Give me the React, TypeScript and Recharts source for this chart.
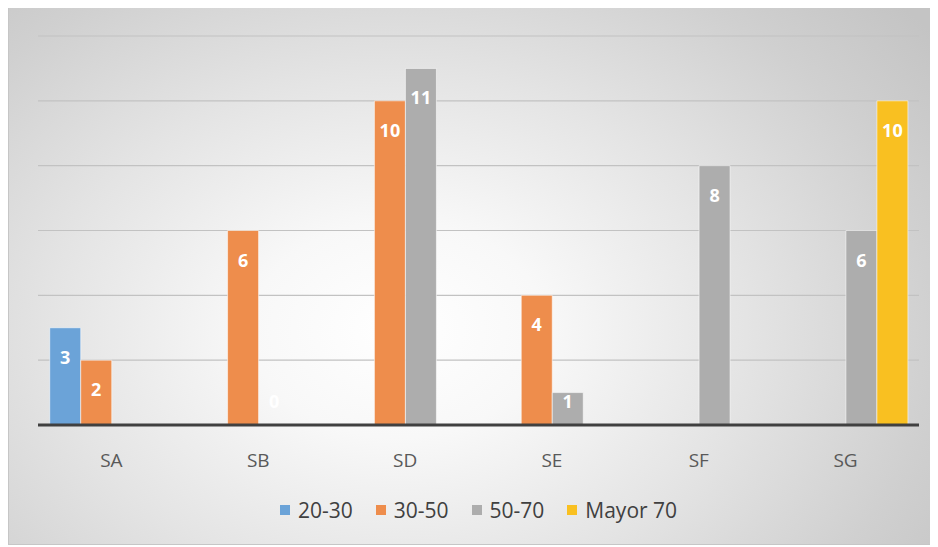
import React from 'react';
import { BarChart, Bar, XAxis, YAxis, CartesianGrid, Legend, LabelList } from 'recharts';

const CATEGORIES = ['SA', 'SB', 'SD', 'SE', 'SF', 'SG'];
const S_20_30 = [3, null, null, null, null, null];
const S_30_50 = [2, 6, 10, 4, null, null];
const S_50_70 = [null, 0, 11, 1, 8, 6];
const S_MAYOR_70 = [null, null, null, null, null, 10];
const Y_TICKS = [0, 2, 4, 6, 8, 10, 12];

const SERIES = [
  { key: 'a', name: '20-30', color: '#6ba3d8', values: S_20_30 },
  { key: 'b', name: '30-50', color: '#ee8d4c', values: S_30_50 },
  { key: 'c', name: '50-70', color: '#adadad', values: S_50_70 },
  { key: 'd', name: 'Mayor 70', color: '#f9c021', values: S_MAYOR_70 },
];

const data = CATEGORIES.map((c, i) => {
  const row: Record<string, any> = { cat: c };
  SERIES.forEach(s => { row[s.key] = s.values[i]; });
  return row;
});

const FONT = '"Open Sans", "Noto Sans", sans-serif';

// zero-height bars get dropped, so give a value of 0 a hairline so its label still shows
const minSize = (value: any) => (value === 0 ? 0.01 : 0);

const BarLabel = (props: any) => {
  const { x, y, width, height, value } = props;
  if (value === null || value === undefined) return null;
  const base = y + height;
  const cy = Math.min(y + 29, base - 24);
  return (
    <text x={x + width / 2} y={cy} textAnchor="middle" dominantBaseline="central"
      fill="#fff" fontSize={18} fontWeight={700} fontFamily={FONT}>{value}</text>
  );
};

const CatTick = (props: any) => {
  const { x, y, payload } = props;
  return (
    <text x={x} y={y + 27} textAnchor="middle" dominantBaseline="central"
      fill="#595959" fontSize={19} fontFamily={FONT}>{payload.value}</text>
  );
};

const LegendBox = () => (
  <div style={{ display: 'flex', justifyContent: 'center', alignItems: 'center', height: 34, gap: 23, fontFamily: FONT }}>
    {SERIES.map(s => (
      <div key={s.key} style={{ display: 'flex', alignItems: 'center', gap: 8 }}>
        <div style={{ width: 10, height: 10, background: s.color }} />
        <span style={{ fontSize: 21, color: '#404040' }}>{s.name}</span>
      </div>
    ))}
  </div>
);

export default function App() {
  return (
    <div style={{
      width: 930, height: 538, marginTop: -1, boxSizing: 'border-box',
      border: '1px solid #c6c6c6',
      background: 'radial-gradient(ellipse 72% 92% at 42% 60%, #ffffff 0%, #f8f8f8 22%, #e4e4e4 52%, #d0d0d0 80%, #c4c4c4 100%)',
    }}>
      <BarChart width={928} height={536} data={data} barCategoryGap="8%" barGap={0}
        margin={{ top: 28, right: 18, left: 29, bottom: 17 }}>
        <CartesianGrid vertical={false} stroke="#c2c2c2" strokeWidth={1.2} />
        <XAxis dataKey="cat" height={68} tick={<CatTick />} tickLine={false}
          axisLine={{ stroke: '#404040', strokeWidth: 3 }} />
        <YAxis hide domain={[0, 12]} ticks={Y_TICKS} />
        <Legend verticalAlign="bottom" height={34} content={<LegendBox />} />
        {SERIES.map(s => (
          <Bar key={s.key} dataKey={s.key} name={s.name} fill={s.color} minPointSize={minSize}
            stroke="rgba(255,255,255,0.55)" strokeWidth={1} isAnimationActive={false}>
            <LabelList dataKey={s.key} content={<BarLabel />} />
          </Bar>
        ))}
      </BarChart>
    </div>
  );
}
